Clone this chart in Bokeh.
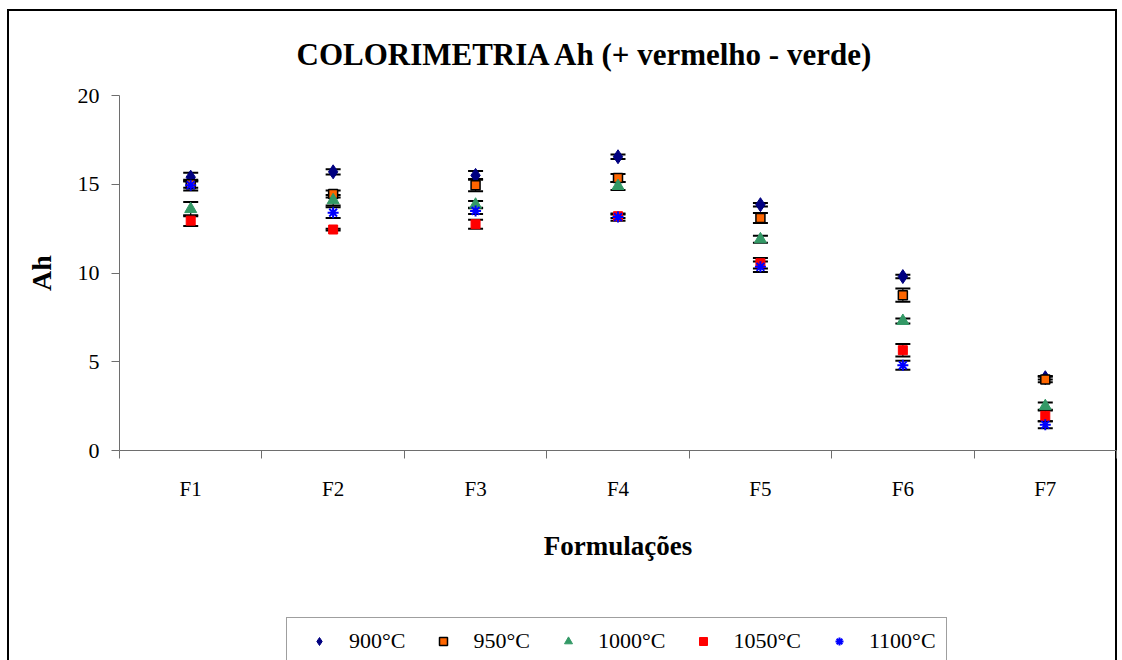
from bokeh.plotting import figure
from bokeh.layouts import column
from bokeh.models import (ColumnDataSource, Range1d, FixedTicker, Whisker, TeeHead,
                          Legend, LegendItem)
from bokeh.embed import file_html
from bokeh.resources import INLINE

formulacoes = ["F1", "F2", "F3", "F4", "F5", "F6", "F7"]
series_names = ["900°C", "950°C", "1000°C", "1050°C", "1100°C"]

ah_900 = [15.4, 15.7, 15.5, 16.55, 13.85, 9.8, 4.1]
err_900 = [0.25, 0.15, 0.25, 0.13, 0.1, 0.1, 0.1]
ah_950 = [15.0, 14.45, 14.95, 15.35, 13.1, 8.75, 4.0]
err_950 = [0.2, 0.2, 0.35, 0.23, 0.28, 0.37, 0.15]
ah_1000 = [13.6, 14.1, 13.85, 14.9, 11.9, 7.3, 2.5]
err_1000 = [0.4, 0.3, 0.2, 0.23, 0.2, 0.14, 0.2]
ah_1050 = [12.95, 12.45, 12.75, 13.2, 10.55, 5.65, 1.95]
err_1050 = [0.3, 0.05, 0.25, 0.1, 0.3, 0.35, 0.3]
ah_1100 = [14.95, 13.4, 13.5, 13.15, 10.35, 4.8, 1.45]
err_1100 = [0.3, 0.3, 0.17, 0.2, 0.3, 0.25, 0.2]

y_ticks = [0, 5, 10, 15, 20]

SERIF = "Liberation Serif"
W = 1120

p = figure(width=W, height=612, output_backend="svg", toolbar_location=None,
           x_range=Range1d(0, len(formulacoes)), y_range=Range1d(0, 20),
           min_border_left=119, min_border_right=4, min_border_top=95,
           min_border_bottom=162,
           title="COLORIMETRIA  Ah (+ vermelho  - verde)")
p.background_fill_color = None
p.border_fill_color = None
p.outline_line_color = None
p.grid.visible = False

p.title.text_font = SERIF
p.title.text_font_size = "31px"
p.title.text_font_style = "bold"
p.title.text_color = "black"
p.title.align = "left"
p.title.offset = 177
p.title.standoff = 48

centers = [i + 0.5 for i in range(len(formulacoes))]
bounds = [i for i in range(len(formulacoes) + 1)]

xa = p.xaxis[0]
xa.ticker = FixedTicker(ticks=centers, minor_ticks=bounds)
xa.major_label_overrides = {c: f for c, f in zip(centers, formulacoes)}
xa.major_tick_out = 0
xa.major_tick_in = 0
xa.minor_tick_out = 8
xa.minor_tick_in = 0
xa.axis_label = "Formulações"

ya = p.yaxis[0]
ya.ticker = FixedTicker(ticks=y_ticks)
ya.major_tick_out = 8
ya.major_tick_in = 0
ya.minor_tick_out = 0
ya.minor_tick_in = 0
ya.axis_label = "Ah"

for ax in (xa, ya):
    ax.axis_line_color = "#6e6e6e"
    ax.major_tick_line_color = "#6e6e6e"
    ax.minor_tick_line_color = "#6e6e6e"
    ax.major_label_text_font = SERIF
    ax.major_label_text_color = "black"
    ax.axis_label_text_font = SERIF
    ax.axis_label_text_font_style = "bold"
    ax.axis_label_text_color = "black"

xa.major_label_text_font_size = "21px"
xa.major_label_standoff = 18
xa.axis_label_text_font_size = "27px"
xa.axis_label_standoff = 27
ya.major_label_text_font_size = "22px"
ya.major_label_standoff = 12
ya.axis_label_text_font_size = "28px"
ya.axis_label_standoff = 18

styles = [
    dict(marker="diamond", size=14, fill_color="#000080", line_color="#000080", line_width=1),
    dict(marker="square", size=9, fill_color="#FF6600", line_color="black", line_width=1.5),
    dict(marker="triangle", size=12, fill_color="#339966", line_color="#339966", line_width=1),
    dict(marker="square", size=9, fill_color="#FF0000", line_color="#FF0000", line_width=1),
    dict(marker="asterisk", size=11, fill_color="#0000FF", line_color="#0000FF", line_width=2),
]
values = [ah_900, ah_950, ah_1000, ah_1050, ah_1100]
errors = [err_900, err_950, err_1000, err_1050, err_1100]

sources = []
for vals, errs, st in zip(values, errors, styles):
    src = ColumnDataSource(data=dict(
        x=centers, y=vals,
        upper=[v + e for v, e in zip(vals, errs)],
        lower=[v - e for v, e in zip(vals, errs)]))
    sources.append(src)
    w = Whisker(base="x", upper="upper", lower="lower", source=src, dimension="height",
                line_color="black", line_width=1.2, level="underlay",
                upper_head=TeeHead(size=15, line_width=2, line_color="black"),
                lower_head=TeeHead(size=15, line_width=2, line_color="black"))
    p.add_layout(w)
    p.scatter(x="x", y="y", source=src, **st)

# legend strip underneath the chart (its ranges keep the shared points out of view)
pl = figure(width=W, height=48, output_backend="svg", toolbar_location=None,
            x_axis_type=None, y_axis_type=None,
            x_range=Range1d(100, 101), y_range=Range1d(100, 101),
            min_border=0)
pl.background_fill_color = None
pl.border_fill_color = None
pl.outline_line_color = None
pl.grid.visible = False

items = []
for name, src, st in zip(series_names, sources, styles):
    r = pl.scatter(x="x", y="y", source=src, **st)
    items.append(LegendItem(label=name, renderers=[r]))

lg = Legend(items=items)
lg.orientation = "horizontal"
lg.location = (167, -5)
lg.border_line_color = "#404040"
lg.border_line_width = 1
lg.background_fill_color = "white"
lg.background_fill_alpha = 1
lg.label_text_font = SERIF
lg.label_text_font_size = "22px"
lg.label_text_color = "black"
lg.glyph_width = 44
lg.glyph_height = 20
lg.label_standoff = 8
lg.spacing = 16
lg.padding = 10
lg.margin = 0
pl.add_layout(lg, "center")

layout = column(p, pl, spacing=0)
layout.styles = {
    "background": ("linear-gradient(#000,#000) 8px 9px / 1108px 2px no-repeat, "
                   "linear-gradient(#000,#000) 7px 9px / 2px 700px no-repeat, "
                   "linear-gradient(#000,#000) 1115px 9px / 2px 700px no-repeat"),
}

open("out.html", "w").write(file_html(layout, INLINE))
